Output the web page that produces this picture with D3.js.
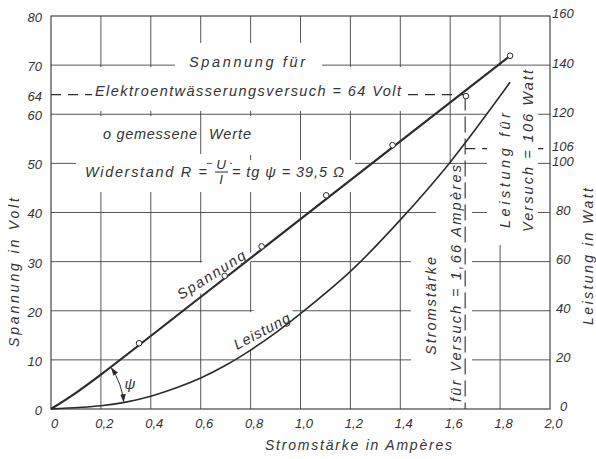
<!DOCTYPE html>
<html>
<head>
<meta charset="utf-8">
<script src="https://cdn.jsdelivr.net/npm/d3@7"></script>
<style>
  body { margin: 0; background: #fff; }
  svg text { font-family: "Liberation Sans", Arial, sans-serif; font-style: italic; fill: #333; }
</style>
</head>
<body>
<div id="chart"></div>
<script>
// Achsen
var stromTicks = [0, 0.2, 0.4, 0.6, 0.8, 1.0, 1.2, 1.4, 1.6, 1.8, 2.0];
var stromTickLabels = ["0", "0,2", "0,4", "0,6", "0,8", "1,0", "1,2", "1,4", "1,6", "1,8", "2,0"];
var spannungTicks = [0, 10, 20, 30, 40, 50, 60, 64, 70, 80];
var leistungTicks = [0, 20, 40, 60, 80, 100, 106, 120, 140, 160];

// gemessene Werte (Kreise)
var gemessenStrom = [0.353, 0.696, 0.844, 1.103, 1.369, 1.663, 1.84];
var gemessenSpannung = [13.4, 27.1, 33.1, 43.5, 53.7, 63.7, 71.9];

// Kurven
var spannungStrom = [0, 0.1, 0.2, 0.6, 1.1, 1.84];
var spannungWerte = [0, 3.3, 7.0, 22.8, 42.6, 71.9];
var leistungStrom = [0, 0.2, 0.3, 0.4, 0.5, 0.6, 0.7, 0.8, 0.9, 1.0, 1.2, 1.4, 1.6, 1.84];
var leistungWerte = [0, 1.3, 2.8, 5.2, 8.5, 12.6, 17.8, 24, 31, 38.8, 56, 77, 100.5, 133];

// Versuch
var versuchStrom = 1.66, versuchSpannung = 64, versuchLeistung = 106;

var W = 596, H = 459;
var svg = d3.select("#chart").append("svg").attr("width", W).attr("height", H);

var x = d3.scaleLinear().domain([0, 2]).range([51, 550]);
var yL = d3.scaleLinear().domain([0, 80]).range([409, 16]);
var yR = d3.scaleLinear().domain([0, 160]).range([409, 16]);

var ink = "#2b2b2b";

var defs = svg.append("defs");
defs.append("marker").attr("id", "pfeil")
  .attr("viewBox", "0 0 10 10").attr("refX", 10).attr("refY", 5)
  .attr("markerWidth", 8).attr("markerHeight", 8)
  .attr("markerUnits", "userSpaceOnUse").attr("orient", "auto-start-reverse")
  .append("path").attr("d", "M0,1.5 L10,5 L0,8.5 Z").attr("fill", ink);

// Gitter
var grid = svg.append("g").attr("stroke", "#444").attr("stroke-width", 0.9);
grid.selectAll(".v").data(stromTicks.slice(1, -1)).enter().append("line")
  .attr("x1", d => x(d)).attr("x2", d => x(d))
  .attr("y1", yL(0)).attr("y2", yL(80));
grid.selectAll(".h").data(spannungTicks.filter(d => d % 10 === 0 && d > 0 && d < 80)).enter().append("line")
  .attr("x1", x(0)).attr("x2", x(2))
  .attr("y1", d => yL(d)).attr("y2", d => yL(d));

// gestrichelte Linien (werden von Texten unterbrochen)
var dashBack = svg.append("g").attr("stroke", ink).attr("stroke-width", 1.1).attr("fill", "none");
dashBack.append("line").attr("stroke-dasharray", "10,7")
  .attr("x1", x(0)).attr("x2", x(versuchStrom))
  .attr("y1", yL(versuchSpannung)).attr("y2", yL(versuchSpannung));
dashBack.append("line").attr("stroke-dasharray", "10,7")
  .attr("x1", x(versuchStrom)).attr("x2", x(2))
  .attr("y1", yR(versuchLeistung)).attr("y2", yR(versuchLeistung));

var maskLayer = svg.append("g");
var plotLayer = svg.append("g");
var textLayer = svg.append("g");

// Text mit weissem Hintergrund, der das Gitter unterbricht
function label(px, py, angle, lines, pad, size, block) {
  var tr = "translate(" + px + "," + py + ") rotate(" + angle + ")";
  var g = textLayer.append("g").attr("transform", tr);
  var nodes = [];
  lines.forEach(function(l) {
    var t = g.append("text").attr("x", l.dx || 0).attr("y", l.dy || 0)
      .attr("text-anchor", l.anchor || "start")
      .style("font-size", (l.size || size) + "px").text(l.t);
    if (l.len) t.attr("textLength", l.len).attr("lengthAdjust", "spacing");
    nodes.push(t.node());
  });
  if (!pad) return g;
  var boxes = block ? [g.node().getBBox()] : nodes.map(n => n.getBBox());
  boxes.forEach(function(b) {
    maskLayer.append("rect").attr("transform", tr)
      .attr("x", b.x - pad[3]).attr("y", b.y - pad[0])
      .attr("width", b.width + pad[1] + pad[3]).attr("height", b.height + pad[0] + pad[2])
      .attr("fill", "#fff");
  });
  return g;
}

var fs = 14.5;
label(189, 67, 0, [{t: "Spannung für", len: 116}], [11, 16, 2, 14], fs);
label(95, 96, 0, [{t: "Elektroentwässerungsversuch = 64 Volt", len: 306}], [16, 3, 12, 3], fs);
label(103, 139, 0, [{t: "o gemessene", len: 94}], [10, 2, 13, 8], fs);
label(209, 139, 0, [{t: "Werte", len: 42}], [10, 6, 13, 5], fs);
label(85, 177, 0, [{t: "Widerstand  R =", len: 122}], [10, 0, 12, 9], fs);
label(221, 169, 0, [{t: "U", anchor: "middle"}, {t: "I", anchor: "middle", dy: 15}], [3, 4, 6, 4], 13.5);
label(232, 177, 0, [{t: "= tg ψ = 39,5 Ω", len: 112}], [4, 11, 12, 0], fs);
label(181, 300, -32.5, [{t: "Spannung", len: 78}], [8, 6, 2, 6], fs);
label(237, 350, -28, [{t: "Leistung", len: 61.5}], [14, 6, 3, 6], fs);
label(436, 355, -90, [
  {t: "Stromstärke", len: 98},
  {t: "für Versuch = 1,66 Ampères", len: 237, dx: -47, dy: 25}
], [12, 1, 8, 6], fs);
label(510, 228, -90, [
  {t: "Leistung für", len: 115},
  {t: "Versuch = 106 Watt", len: 162, dx: -4, dy: 23}
], [10, 3, 2, 13], fs, true);
label(130, 389, 0, [{t: "ψ", anchor: "middle"}], null, 15);

// Achsentitel
label(265, 450, 0, [{t: "Stromstärke in Ampères", len: 187}], null, 14);
label(19, 347, -90, [{t: "Spannung in Volt", len: 149}], null, 14);
label(593, 325, -90, [{t: "Leistung in Watt", len: 137}], null, 14);

// Bruchstrich
textLayer.append("line").attr("x1", 215).attr("x2", 228).attr("y1", 172).attr("y2", 172)
  .attr("stroke", ink).attr("stroke-width", 1);

// Rahmen
plotLayer.append("rect").attr("x", x(0)).attr("y", yL(80))
  .attr("width", x(2) - x(0)).attr("height", yL(0) - yL(80))
  .attr("fill", "none").attr("stroke", "#333").attr("stroke-width", 1.1);

// senkrechte Strichlinie bei 1,66 A
plotLayer.append("line").attr("stroke", ink).attr("stroke-width", 1.1).attr("stroke-dasharray", "16,6")
  .attr("x1", x(versuchStrom)).attr("x2", x(versuchStrom))
  .attr("y1", yL(versuchSpannung)).attr("y2", yL(0));

// Kurven
var spannungLine = d3.line().x(d => x(d[0])).y(d => yL(d[1])).curve(d3.curveCatmullRom);
plotLayer.append("path").datum(d3.zip(spannungStrom, spannungWerte))
  .attr("d", spannungLine).attr("fill", "none").attr("stroke", ink).attr("stroke-width", 2.2);

var leistungLine = d3.line().x(d => x(d[0])).y(d => yR(d[1])).curve(d3.curveCatmullRom);
plotLayer.append("path").datum(d3.zip(leistungStrom, leistungWerte))
  .attr("d", leistungLine).attr("fill", "none").attr("stroke", ink).attr("stroke-width", 1.6);

// Winkel psi
var x0 = x(0), y0 = yL(0);
var a0 = Math.atan2(yL(spannungWerte[2]) - y0, x(spannungStrom[2]) - x0);
var a1 = Math.atan2(yR(leistungWerte[2]) - y0, x(leistungStrom[2]) - x0);
var pArc = d3.path();
pArc.arc(x0, y0, 73, a0, a1, false);
plotLayer.append("path").attr("d", pArc.toString()).attr("fill", "none")
  .attr("stroke", ink).attr("stroke-width", 1)
  .attr("marker-start", "url(#pfeil)").attr("marker-end", "url(#pfeil)");

// Messpunkte
plotLayer.selectAll("circle").data(d3.zip(gemessenStrom, gemessenSpannung)).enter().append("circle")
  .attr("cx", d => x(d[0])).attr("cy", d => yL(d[1])).attr("r", 2.8)
  .attr("fill", "#fff").attr("stroke", ink).attr("stroke-width", 1);

// Achsenbeschriftung
var axB = svg.append("g").attr("transform", "translate(0," + yL(0) + ")")
  .call(d3.axisBottom(x).tickValues(stromTicks).tickFormat((d, i) => stromTickLabels[i]).tickSize(0).tickPadding(10));
axB.selectAll("text").attr("dx", 3);

var axL = svg.append("g").attr("transform", "translate(" + x(0) + ",0)")
  .call(d3.axisLeft(yL).tickValues(spannungTicks).tickFormat(d3.format("d")).tickSize(0).tickPadding(9));
axL.selectAll("text").attr("dy", "0.42em");

var axR = svg.append("g").attr("transform", "translate(" + x(2) + ",0)")
  .call(d3.axisRight(yR).tickValues(leistungTicks).tickFormat(d3.format("d")).tickSize(0).tickPadding(2));
axR.selectAll("text").attr("dy", "0.15em").attr("dx", d => (3 - String(d).length) * 4);

[axB, axL, axR].forEach(function(a) {
  a.select(".domain").remove();
  a.attr("font-size", 13).attr("font-family", null).attr("color", "#333");
});
</script>
</body>
</html>
